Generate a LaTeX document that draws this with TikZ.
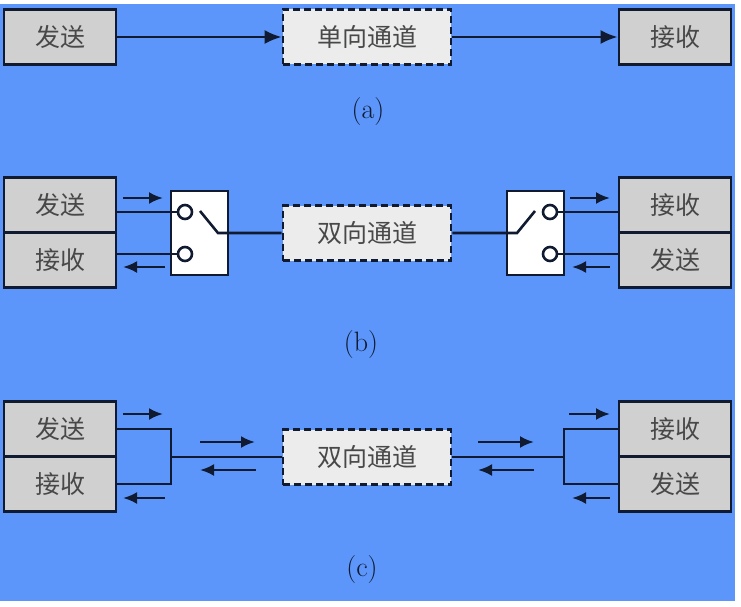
\documentclass[tikz,border=0pt]{standalone}
\usepackage{fontspec}
\newfontfamily\cjk{Noto Sans CJK SC}
\usetikzlibrary{arrows.meta}
\definecolor{bgblue}{RGB}{92,150,250}
\definecolor{boxgray}{RGB}{208,208,208}
\definecolor{chgray}{RGB}{236,236,236}
\definecolor{linenavy}{RGB}{16,26,48}
\definecolor{txtgray}{RGB}{72,72,72}

\begin{document}
\begin{tikzpicture}[
			x = 1pt, y = -1pt,
			line width = 2.6pt,
			every node/.style = {inner sep=0pt, text=txtgray},
			unit/.style = {draw=linenavy, fill=boxgray, minimum width=112pt, minimum height=55pt, font=\cjk\fontsize{25}{25}\selectfont},
			chan/.style = {draw=linenavy, fill=chgray, dash pattern=on 7pt off 4pt, minimum width=168pt, minimum height=55pt, font=\cjk\fontsize{25}{25}\selectfont},
			switchbox/.style = {draw=linenavy, fill=white, minimum width=57pt, minimum height=84pt},
			pin/.style = {circle, draw=linenavy, fill=white, minimum size=14pt},
			sub/.style = {font=\fontsize{28}{28}\selectfont, text=linenavy},
			wire/.style = {draw=linenavy},
			big/.style = {wire, -{Latex[length=17pt,width=14pt]}},
			small/.style = {wire, -{Latex[length=14pt,width=12pt]}}
			]

			\useasboundingbox (0,0) rectangle (741,607);
			\fill[white] (0,0) rectangle (741,607);
			\fill[bgblue] (0,4) rectangle (735,601);

			\node[unit] (snda) at (60,37) {发送};
			\node[chan] (cha) at (367,37) {单向通道};
			\node[unit] (rcva) at (675,37) {接收};
			\draw[big] (snda) -- (cha);
			\draw[big] (cha) -- (rcva);
			\node[sub] (laba) at (368,112) {(a)};

			\node[unit] (sndb) at (60,205) {发送};
			\node[unit] (rcvb) at (60,260) {接收};
			\node[switchbox] (swl) at (199.5,233) {};
			\node[pin] (pl1) at (185,212) {};
			\node[pin] (pl2) at (185,254) {};
			\coordinate (bll) at (200,211);
			\coordinate (hgl) at (218,233);
			\node[chan] (chb) at (367,233) {双向通道};
			\draw[wire] (sndb.east |- pl1) -- (pl1);
			\draw[wire] (rcvb.east |- pl2) -- (pl2);
			\draw[wire] (bll) -- (hgl) -- (chb);

			\node[unit] (rrcvb) at (675,205) {接收};
			\node[unit] (rsndb) at (675,260) {发送};
			\node[switchbox] (swr) at (535.5,233) {};
			\node[pin] (pr1) at (550,212) {};
			\node[pin] (pr2) at (550,254) {};
			\coordinate (blr) at (535,211);
			\coordinate (hgr) at (517,233);
			\draw[wire] (pr1) -- (rrcvb.west |- pr1);
			\draw[wire] (pr2) -- (rsndb.west |- pr2);
			\draw[wire] (chb) -- (hgr) -- (blr);

			\draw[small] (123,198) -- (163,198);
			\draw[small] (165,267) -- (123,267);
			\draw[small] (570,198) -- (610,198);
			\draw[small] (610,267) -- (572,267);
			\node[sub] (labb) at (361,345) {(b)};

			\node[unit] (sndc) at (60,429) {发送};
			\node[unit] (rcvc) at (60,484) {接收};
			\node[chan] (chc) at (367,457) {双向通道};
			\coordinate (jl) at (171,457);
			\draw[wire] (sndc.east) -| (jl) |- (rcvc.east);
			\draw[wire] (jl) -- (chc);

			\node[unit] (rrcvc) at (675,429) {接收};
			\node[unit] (rsndc) at (675,484) {发送};
			\coordinate (jr) at (564,457);
			\draw[wire] (rrcvc.west) -| (jr) |- (rsndc.west);
			\draw[wire] (chc) -- (jr);

			\draw[small] (123,414) -- (163,414);
			\draw[small] (165,498) -- (123,498);
			\draw[small] (200,442) -- (255,442);
			\draw[small] (256,470) -- (200,470);
			\draw[small] (478,442) -- (534,442);
			\draw[small] (534,470) -- (478,470);
			\draw[small] (569,414) -- (610,414);
			\draw[small] (610,498) -- (572,498);
			\node[sub] (labc) at (362,570) {(c)};

		\end{tikzpicture}
\end{document}
